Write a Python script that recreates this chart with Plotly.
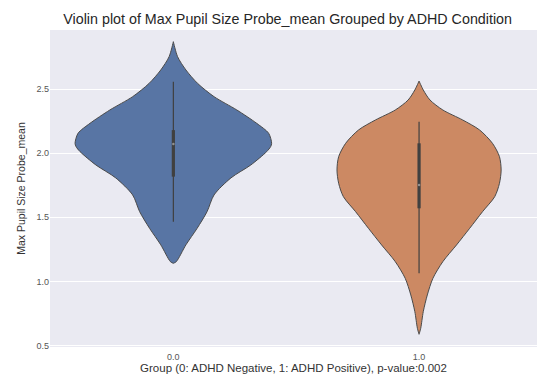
import plotly.graph_objects as go

# Groups on the categorical x axis
groups = [0, 1]
group_labels = ["0.0", "1.0"]
fill_colors = ["#5875a4", "#cc8963"]

# Kernel density profile per group: value levels and density relative to the widest point
levels_neg = [2.870, 2.753, 2.649, 2.545, 2.441, 2.337, 2.233, 2.155, 2.077, 2.051,
              2.012, 1.908, 1.807, 1.674, 1.544, 1.414, 1.285, 1.154, 1.141]
density_neg = [0.0, 0.043, 0.128, 0.246, 0.414, 0.646, 0.848, 0.970, 1.0, 0.99,
               0.949, 0.788, 0.586, 0.414, 0.343, 0.242, 0.128, 0.03, 0.0]

levels_pos = [2.563, 2.493, 2.415, 2.337, 2.259, 2.181, 2.077, 1.973, 1.869, 1.765,
              1.661, 1.544, 1.414, 1.284, 1.154, 1.024, 0.894, 0.764, 0.634, 0.587]
density_pos = [0.0, 0.043, 0.111, 0.242, 0.444, 0.616, 0.747, 0.818, 0.835, 0.818,
               0.77, 0.646, 0.515, 0.381, 0.242, 0.141, 0.084, 0.043, 0.017, 0.0]

# Box summary per group: lower whisker, Q1, median, Q3, upper whisker
box_neg = [1.465, 1.817, 2.072, 2.180, 2.558]
box_pos = [1.063, 1.570, 1.752, 2.077, 2.246]

profiles = [(levels_neg, density_neg, box_neg), (levels_pos, density_pos, box_pos)]
half_width = 0.4  # half of the violin width (in category units) at the density peak

fig = go.Figure()

for g, color, (levels, dens, box) in zip(groups, fill_colors, profiles):
    right_x = [g + half_width * d for d in dens]
    left_x = [g - half_width * d for d in reversed(dens)]
    xs = right_x + left_x + [right_x[0]]
    ys = list(levels) + list(reversed(levels)) + [levels[0]]
    fig.add_trace(go.Scatter(
        x=xs, y=ys, mode="lines", fill="toself", fillcolor=color,
        line=dict(color="#4a4a4a", width=1, shape="spline", smoothing=0.8),
        hoverinfo="skip", showlegend=False,
    ))
    lo, q1, med, q3, hi = box
    # whisker
    fig.add_trace(go.Scatter(
        x=[g, g], y=[lo, hi], mode="lines",
        line=dict(color="#404040", width=1.2), hoverinfo="skip", showlegend=False,
    ))
    # interquartile box
    fig.add_trace(go.Scatter(
        x=[g, g], y=[q1, q3], mode="lines",
        line=dict(color="#404040", width=3.2), hoverinfo="skip", showlegend=False,
    ))
    # median
    fig.add_trace(go.Scatter(
        x=[g], y=[med], mode="markers",
        marker=dict(color="rgba(200,200,200,0.6)", size=2.5, line=dict(width=0)),
        hoverinfo="skip", showlegend=False,
    ))

font_family = "Liberation Sans, Arial, sans-serif"

fig.update_layout(
    width=537, height=377,
    margin=dict(l=50, r=0, t=30, b=30),
    paper_bgcolor="white",
    plot_bgcolor="#eaeaf2",
    font=dict(family=font_family, color="#262626"),
    title=dict(
        text="Violin plot of Max Pupil Size Probe_mean Grouped by ADHD Condition",
        font=dict(size=14.3, color="#262626"),
        x=0.488, xref="paper", xanchor="center",
        y=0.95, yref="container", yanchor="middle",
    ),
    xaxis=dict(
        range=[-0.502, 1.48],
        tickvals=groups, ticktext=group_labels,
        showgrid=False, zeroline=False, showline=False, ticks="",
        tickfont=dict(size=9, color="#555555"),
        ticklabelstandoff=3,
        title=dict(text="Group (0: ADHD Negative, 1: ADHD Positive), p-value:0.002",
                   font=dict(size=11.5, color="#333333"), standoff=1),
    ),
    yaxis=dict(
        range=[0.488, 2.961],
        tickvals=[0.5, 1.0, 1.5, 2.0, 2.5],
        ticktext=["0.5", "1.0", "1.5", "2.0", "2.5"],
        showgrid=True, gridcolor="white", gridwidth=1,
        zeroline=False, showline=False, ticks="",
        tickfont=dict(size=9, color="#555555"),
        title=dict(text="Max Pupil Size Probe_mean",
                   font=dict(size=10.5, color="#333333"), standoff=8),
    ),
)

fig.write_html("out.html")
